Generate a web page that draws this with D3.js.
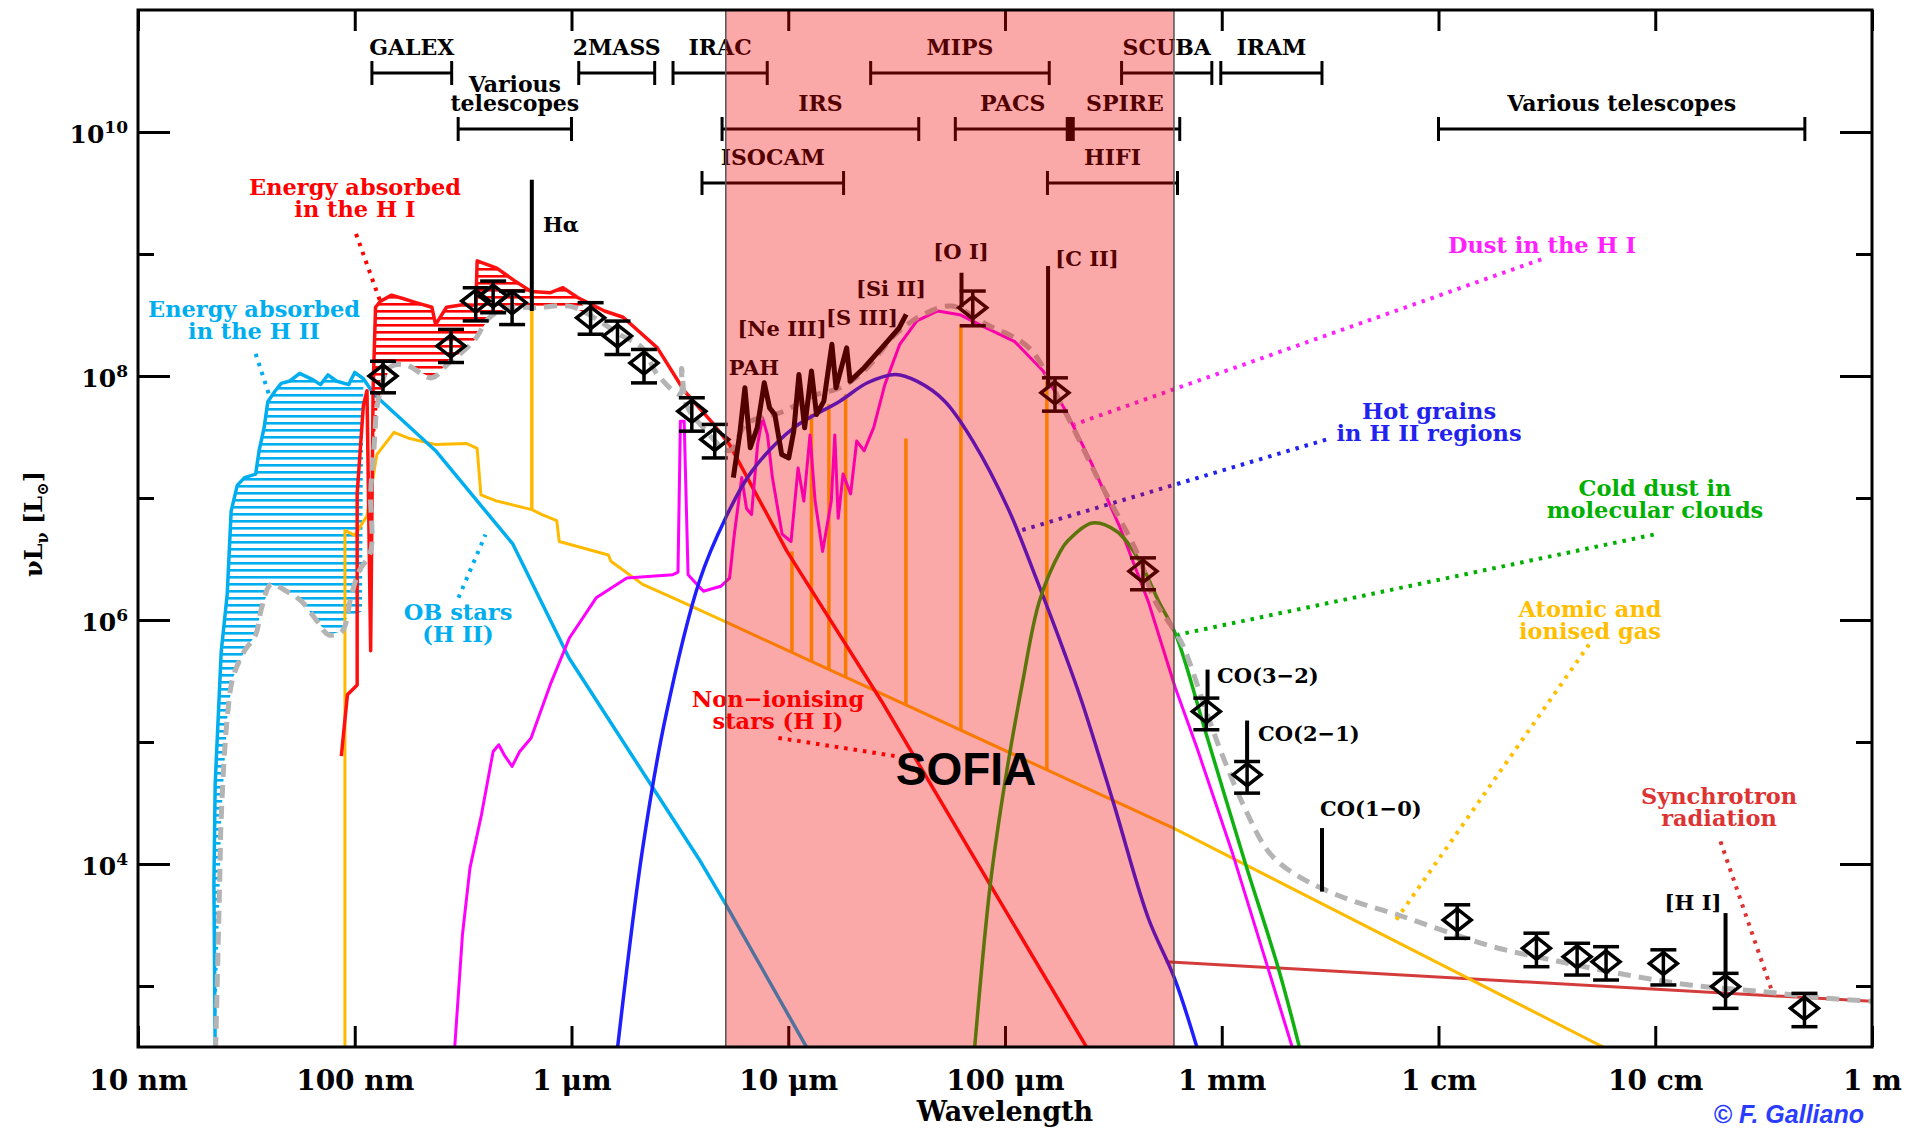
<!DOCTYPE html>
<html>
<head>
<meta charset="utf-8">
<script src="https://cdn.jsdelivr.net/npm/d3@7"></script>
<style>
  body { margin: 0; background: #fff; }
  svg { display: block; }
  text { font-family: "DejaVu Serif", serif; font-weight: bold; }
</style>
</head>
<body>
<svg id="sed" width="1921" height="1131"></svg>
<script>
//axis ticks
var waveTicks = [0.01, 0.1, 1, 10, 100, 1000, 1e4, 1e5, 1e6];
var waveLabels = ["10 nm", "100 nm", "1 μm", "10 μm", "100 μm", "1 mm", "1 cm", "10 cm", "1 m"];
var lumMajor = [1e4, 1e6, 1e8, 1e10];
var lumMinor = [1e3, 1e5, 1e7, 1e9];

//SOFIA band (microns)
var sofiaBand = [5.15, 602];

//instrument coverage (microns)
var instNames = ["GALEX", "2MASS", "IRAC", "MIPS", "SCUBA", "IRAM", "Various\ntelescopes", "IRS", "PACS", "SPIRE", "Various telescopes", "ISOCAM", "HIFI"];
var instLo = [0.12, 1.08, 2.94, 24, 345, 990, 0.3, 4.95, 59, 200, 1e4, 4.0, 157];
var instHi = [0.28, 2.42, 8.0, 160, 900, 2900, 1.0, 40, 200, 640, 4.9e5, 18, 625];
var instRow = [0, 0, 0, 0, 0, 0, 1, 1, 1, 1, 1, 2, 2];

//model components [wavelength in micron, nuLnu in Lsun]
var obStars = [[0.0227,303],[0.0224,6750],[0.0227,4.5e4],[0.0242,5.48e5],[0.0258,1.63e6],[0.0269,7.8e6],[0.0287,1.27e7],[0.031,1.47e7],[0.0349,1.57e7],[0.0362,2.44e7],[0.0382,3.79e7],[0.0397,6.15e7],[0.043,7.57e7],[0.0458,8.7e7],[0.0502,9.1e7],[0.0557,1.05e8],[0.0643,9.3e7],[0.0695,8.5e7],[0.0752,1.02e8],[0.0822,9.1e7],[0.0937,8.5e7],[0.1,1.07e8],[0.1096,9.5e7],[0.123,7.06e7],[0.236,2.44e7],[0.536,4.2e6],[0.974,4.88e5],[3.87,1.1e4],[5.15,4660],[12.3,303],[16,135]];
var obAbsorbEdge = [[0.108,1.18e6],[0.0889,1.0e6]];

var redStars = [[0.0867,7.66e4],[0.0925,2.44e5],[0.1026,2.93e5],[0.1026,1.08e7],[0.1096,5.74e7],[0.1139,7.57e7],[0.1184,5.6e5],[0.1215,7.57e7],[0.1247,3.66e8],[0.1315,4.1e8],[0.1478,4.6e8],[0.168,4.3e8],[0.1916,4.0e8],[0.227,3.66e8],[0.236,2.64e8],[0.265,3.66e8],[0.314,3.83e8],[0.362,3.8e8],[0.367,8.8e8],[0.452,7.66e8],[0.543,6.08e8],[0.651,4.93e8],[0.801,4.82e8],[0.913,5.3e8],[1.067,4.4e8],[1.42,3.41e8],[1.73,3.03e8],[2.49,1.7e8],[3.31,7.57e7],[4.41,4.25e7],[5.36,2.74e7],[9.87,3.65e6],[26.9,2.17e5],[85.5,6750],[239,311],[279,191]];

var totalSED = [[0.0228,300],[0.0238,6750],[0.0242,2.38e4],[0.0258,1.57e5],[0.0274,3.35e5],[0.0309,5.53e5],[0.0349,7.57e5],[0.0372,1.26e6],[0.0411,1.96e6],[0.0484,1.72e6],[0.0569,1.42e6],[0.067,9.8e5],[0.0757,7.57e5],[0.0873,8.07e5],[0.0966,1.62e6],[0.1047,2.51e6],[0.1184,3.65e6],[0.1184,1.07e7],[0.123,2.74e7],[0.128,6.22e7],[0.1446,1.17e8],[0.1705,1.24e8],[0.2266,9.66e7],[0.2667,1.24e8],[0.354,1.93e8],[0.417,3.0e8],[0.511,3.63e8],[0.679,3.63e8],[0.978,3.74e8],[1.2,3.2e8],[1.66,2.2e8],[2.12,1.7e8],[2.49,1.03e8],[3.18,7.07e7],[3.22,1.15e8],[3.4,5.74e7],[4.06,3.76e7],[5.36,2.44e7],[6.42,4.06e7],[9.49,5.12e7],[13.1,6.9e7],[17.3,8.0e7],[22.4,1.1e8],[31.3,2.2e8],[42.2,3.21e8],[56.8,3.74e8],[82.5,2.64e8],[129,1.7e8],[189,5.12e7],[262,1.57e7],[410,3.44e6],[493,1.42e6],[594,8.6e5],[659,6.3e5],[849,1.78e5],[990,8.4e4],[1277,2.87e4],[1597,1.35e4],[1868,1.0e4],[2472,7230],[3126,5940],[4110,4920],[6490,3830],[1.08e4,2800],[1.89e4,2040],[3.66e4,1580],[7.45e4,1230],[1.44e5,1020],[3.08e5,901],[6.28e5,792],[9.93e5,750]];

var atomicGas = [[0.0901,250],[0.0901,5.42e6],[0.1,4.94e6],[0.1139,7.15e6],[0.1264,2.27e7],[0.1517,3.45e7],[0.1796,3.07e7],[0.236,2.74e7],[0.327,2.8e7],[0.367,2.55e7],[0.382,1.06e7],[0.452,9.44e6],[0.656,8.03e6],[0.732,7.31e6],[0.855,6.52e6],[0.878,4.4e6],[1.48,3.41e6],[1.52,3.03e6],[2.13,1.96e6],[2.94,1.52e6],[5.36,9.33e5],[602,1.96e4],[6.02e4,303],[7.5e4,241]];
var lineWaves = [10.4, 12.8, 15.4, 18.4, 34.9, 62.6, 156];
var lineBase = [5.4e5, 4.57e5, 3.94e5, 3.4e5, 2.02e5, 1.25e5, 5.94e4];
var linePeak = [3.65e6, 4.9e7, 5.87e7, 7.07e7, 3.07e7, 2.64e8, 9.1e7];
var haWave = 0.656, haBase = 8.03e6, haPeak = 3.41e8;

var hotGrains = [[1.63,308],[2.12,1.27e4],[2.71,1.57e5],[3.89,2.08e6],[5.14,6.87e6],[6.8,1.66e7],[10.6,3.76e7],[17.3,6.22e7],[23.2,8.8e7],[31.3,1.03e8],[39.2,9.07e7],[52.7,6.22e7],[71.1,2.93e7],[103,8.3e6],[139,2.21e6],[187,5.53e5],[226,2.15e5],[315,3.26e4],[458,3610],[605,1160],[771,308]];

var dustHI = [[0.289,308],[0.314,2630],[0.34,9240],[0.384,2.52e4],[0.435,8.37e4],[0.462,9.5e4],[0.489,7.85e4],[0.532,6.31e4],[0.577,8.37e4],[0.651,1.08e5],[0.798,2.95e5],[0.978,7.12e5],[1.3,1.52e6],[1.8,2.21e6],[2.93,2.35e6],[3.1,2.47e6],[3.18,4.25e7],[3.31,4.25e7],[3.45,2.35e6],[4.06,1.72e6],[4.88,1.89e6],[5.36,2.2e6],[5.64,5.05e6],[6.1,1.47e7],[6.42,8.2e6],[6.77,7.31e6],[7.22,2.74e7],[7.6,4.55e7],[8.02,3.29e7],[8.45,1.47e7],[9.37,5.05e6],[10.3,4.4e6],[11.1,1.76e7],[11.8,9.44e6],[12.6,3.29e7],[13.3,9.44e6],[14.4,3.65e6],[15.8,9.44e6],[16.4,3.29e7],[17.0,6.82e6],[17.9,1.57e7],[19.4,1.08e7],[20.7,2.93e7],[22.4,2.44e7],[24.8,3.79e7],[27.9,8.5e7],[32.7,1.82e8],[39.2,2.83e8],[48.9,3.41e8],[61.8,3.18e8],[82.3,2.47e8],[111,1.91e8],[150,1.1e8],[194,4.88e7],[252,1.89e7],[340,5.68e6],[458,1.42e6],[610,2.8e5],[771,8.8e4],[1125,1.2e4],[1565,1800],[2122,308]];

var coldDust = [[72.4,308],[85.5,6750],[99.5,4.46e4],[120,2.95e5],[144,1.42e6],[180,3.65e6],[194,4.42e6],[253,6.25e6],[327,5.34e6],[410,3.23e6],[512,1.42e6],[614,7.57e5],[849,1.15e5],[1277,1.05e4],[1824,1400],[2290,308]];

var synchrotron = [[552,1580],[9.93e5,750]];

var pahSpec = [[5.58,1.47e7],[5.97,3.32e7],[6.31,8.0e7],[6.68,2.58e7],[7.19,3.76e7],[7.75,8.8e7],[8.2,5.48e7],[8.67,4.84e7],[9.33,2.27e7],[10.05,2.13e7],[10.6,3.53e7],[11.2,1.03e8],[11.9,3.76e7],[12.8,1.1e8],[13.5,4.84e7],[14.6,6.22e7],[15.9,1.82e8],[16.6,8.0e7],[18.6,1.7e8],[19.3,9.07e7],[22.4,1.17e8],[27.0,1.7e8],[32.5,2.48e8],[35.0,3.2e8]];

//line markers (Halpha, [OI], [CII], CO(3-2), CO(2-1), CO(1-0), [HI])
var markerWave = [0.656, 63, 158, 860, 1309, 2900, 2.11e5];
var markerTop = [4.06e9, 7.02e8, 7.97e8, 3.92e5, 1.5e5, 1.97e4, 3960];
var markerBottom = [3.41e8, 3.66e8, 7.94e7, 2.2e5, 6.98e4, 5940, 1160];

//photometry
var dataWave = [0.135,0.278,0.3615,0.435,0.532,1.225,1.63,2.16,3.59,4.58,71,170,433,849,1309,1.22e4,2.83e4,4.36e4,5.93e4,1.09e5,2.11e5,4.88e5];
var dataLum = [1.0e8,1.76e8,4.11e8,4.52e8,3.99e8,3.0e8,2.13e8,1.28e8,5.15e7,3.02e7,3.63e8,7.28e7,2.51e6,1.78e5,5.39e4,3480,2040,1740,1580,1530,989,656];
var dataHi = [1.32e8,2.41e8,5.29e8,6.0e8,4.97e8,3.99e8,2.82e8,1.65e8,6.63e7,4.01e7,4.97e8,9.66e7,3.23e6,2.29e5,6.92e4,4630,2710,2240,2100,1980,1270,870];
var dataLo = [7.28e7,1.29e8,2.83e8,3.3e8,2.64e8,2.2e8,1.5e8,8.78e7,3.53e7,2.13e7,2.58e8,5.15e7,1.77e6,1.26e5,3.81e4,2460,1440,1230,1120,1020,656,464];

//label pointers
var ptrHIabs = [[0.1014,1.46e9],[0.131,4.1e8]];
var ptrHIIabs = [[0.0349,1.52e8],[0.0402,7.06e7]];
var ptrOB = [[0.301,1.52e6],[0.401,5.01e6]];
var ptrNonIon = [[9.01,1.08e5],[31.4,7.66e4]];
var ptrDust = [[2.98e4,9.03e8],[209,4.01e7]];
var ptrHot = [[3030,3.01e7],[115,5.34e6]];
var ptrCold = [[9.84e4,5.01e6],[626,7.57e5]];
var ptrGas = [[4.95e4,6.3e5],[6180,3220]];
var ptrSync = [[2.0e5,1.53e4],[3.42e5,957]];

//---------------- drawing ----------------
var box = {left: 138, right: 1872, top: 10, bottom: 1047};

var x = d3.scaleLog().domain([0.01, 1e6]).range([box.left, box.right]);
var y = d3.scaleLog().domain([Math.pow(10, 2.5), 1e11]).range([box.bottom, box.top]);

var svg = d3.select("#sed");
var defs = svg.append("defs");

defs.append("clipPath").attr("id", "plotclip").append("rect")
	.attr("x", box.left).attr("y", box.top)
	.attr("width", box.right - box.left).attr("height", box.bottom - box.top);

function hatch(id, color) {
	var p = defs.append("pattern").attr("id", id)
		.attr("patternUnits", "userSpaceOnUse")
		.attr("width", 20).attr("height", 7);
	p.append("rect").attr("x", 0).attr("y", 2).attr("width", 20).attr("height", 2.6).attr("fill", color);
}
hatch("hatchBlue", "#00aeef");
hatch("hatchRed", "#ff0000");

var line = d3.line().x(function(d) { return x(d[0]); }).y(function(d) { return y(d[1]); });
var smooth = d3.line().x(function(d) { return x(d[0]); }).y(function(d) { return y(d[1]); })
	.curve(d3.curveCatmullRom.alpha(0.5));

var plot = svg.append("g").attr("clip-path", "url(#plotclip)");

function curve(data, color, width, gen) {
	return plot.append("path")
		.attr("d", (gen || line)(data))
		.attr("fill", "none")
		.attr("stroke", color)
		.attr("stroke-width", width)
		.attr("stroke-linejoin", "round");
}

//absorbed energy (hatched)
var obHatch = obStars.slice(0, 23).concat(obAbsorbEdge, totalSED.slice(0, 14).reverse());
plot.append("path").attr("d", line(obHatch) + "Z").attr("fill", "url(#hatchBlue)");
var redHatch = redStars.slice(8, 25).concat(totalSED.slice(16, 30).reverse());
plot.append("path").attr("d", line(redHatch) + "Z").attr("fill", "url(#hatchRed)");

//components
curve(synchrotron, "#d43c3c", 3);
curve(atomicGas, "#ffba00", 3);
lineWaves.forEach(function(w, i) {
	plot.append("line")
		.attr("x1", x(w)).attr("x2", x(w))
		.attr("y1", y(lineBase[i])).attr("y2", y(linePeak[i]))
		.attr("stroke", "#ffba00").attr("stroke-width", 3.5);
});
plot.append("line")
	.attr("x1", x(haWave)).attr("x2", x(haWave))
	.attr("y1", y(haBase)).attr("y2", y(haPeak))
	.attr("stroke", "#ffba00").attr("stroke-width", 3.5);

curve(obStars, "#00aeef", 3.5);
curve(redStars, "#ff1010", 3.5);
curve(dustHI, "#ff00ff", 3);
curve(hotGrains, "#1e1eff", 3.5, smooth);
curve(coldDust, "#10b010", 3.5, smooth);

//total
curve(totalSED, "#b4b4b4", 5, smooth).attr("stroke-dasharray", "13 8");

//observed mid-IR spectrum
curve(pahSpec, "#000", 5);

//line markers
markerWave.forEach(function(w, i) {
	plot.append("line")
		.attr("x1", x(w)).attr("x2", x(w))
		.attr("y1", y(markerTop[i])).attr("y2", y(markerBottom[i]))
		.attr("stroke", "#000").attr("stroke-width", 4);
});

//photometry
var pts = plot.append("g").attr("stroke", "#000").attr("stroke-width", 3.5).attr("fill", "none");
dataWave.forEach(function(w, i) {
	var cx = x(w), cy = y(dataLum[i]), yh = y(dataHi[i]), yl = y(dataLo[i]);
	pts.append("line").attr("x1", cx).attr("x2", cx).attr("y1", yh).attr("y2", yl);
	pts.append("line").attr("x1", cx - 13).attr("x2", cx + 13).attr("y1", yh).attr("y2", yh);
	pts.append("line").attr("x1", cx - 13).attr("x2", cx + 13).attr("y1", yl).attr("y2", yl);
	pts.append("path").attr("d", "M" + cx + "," + (cy - 11) + "L" + (cx + 14) + "," + cy +
		"L" + cx + "," + (cy + 11) + "L" + (cx - 14) + "," + cy + "Z");
});

//dotted pointers
var pointers = [ptrHIabs, ptrHIIabs, ptrOB, ptrNonIon, ptrDust, ptrHot, ptrCold, ptrGas, ptrSync];
var pointerColors = ["#ff0000", "#00aeef", "#00aeef", "#ff0000", "#ff22ff", "#2222ee", "#00b000", "#ffbe00", "#dd3333"];
pointers.forEach(function(p, i) {
	curve(p, pointerColors[i], 4).attr("stroke-dasharray", "3.5 6");
});

//axes
function styleTicks(g) {
	g.select(".domain").remove();
	g.selectAll(".tick line").attr("stroke", "#000").attr("stroke-width", 3);
}

var gB = svg.append("g").attr("transform", "translate(0," + box.bottom + ")")
	.call(d3.axisBottom(x).tickValues(waveTicks)
		.tickFormat(function(d, i) { return waveLabels[i]; })
		.tickSize(-21).tickPadding(23).tickSizeOuter(0));
styleTicks(gB);
gB.selectAll(".tick text").attr("font-size", 28).attr("fill", "#000");

var gT = svg.append("g").attr("transform", "translate(0," + box.top + ")")
	.call(d3.axisTop(x).tickValues(waveTicks).tickFormat("").tickSize(-21).tickSizeOuter(0));
styleTicks(gT);

var gL = svg.append("g").attr("transform", "translate(" + box.left + ",0)")
	.call(d3.axisLeft(y).tickValues(lumMajor).tickFormat("").tickSize(-32).tickPadding(10).tickSizeOuter(0));
styleTicks(gL);
gL.selectAll(".tick text").each(function(d) {
	var t = d3.select(this).attr("font-size", 25).attr("fill", "#000").attr("dy", "0.42em");
	t.append("tspan").text("10");
	t.append("tspan").attr("dy", -10).attr("font-size", 17).text(Math.round(Math.log10(d)));
});
var gL2 = svg.append("g").attr("transform", "translate(" + box.left + ",0)")
	.call(d3.axisLeft(y).tickValues(lumMinor).tickFormat("").tickSize(-16).tickSizeOuter(0));
styleTicks(gL2);

var gR = svg.append("g").attr("transform", "translate(" + box.right + ",0)")
	.call(d3.axisRight(y).tickValues(lumMajor).tickFormat("").tickSize(-32).tickSizeOuter(0));
styleTicks(gR);
var gR2 = svg.append("g").attr("transform", "translate(" + box.right + ",0)")
	.call(d3.axisRight(y).tickValues(lumMinor).tickFormat("").tickSize(-16).tickSizeOuter(0));
styleTicks(gR2);

//instrument coverage bars
var rowY = [73, 129, 183];
var inst = svg.append("g").attr("stroke", "#000").attr("stroke-width", 3);
instNames.forEach(function(name, i) {
	var x0 = x(instLo[i]), x1 = x(instHi[i]), yy = rowY[instRow[i]];
	inst.append("line").attr("x1", x0).attr("x2", x1).attr("y1", yy).attr("y2", yy);
	inst.append("line").attr("x1", x0).attr("x2", x0).attr("y1", yy - 12).attr("y2", yy + 12);
	inst.append("line").attr("x1", x1).attr("x2", x1).attr("y1", yy - 12).attr("y2", yy + 12);
	//shared edge between neighbouring instruments
	instNames.forEach(function(n2, j) {
		if (j !== i && instRow[j] === instRow[i] && instLo[j] === instHi[i]) {
			inst.append("line").attr("x1", x1).attr("x2", x1).attr("y1", yy - 12).attr("y2", yy + 12)
				.attr("stroke-width", 9);
		}
	});
	var parts = name.split("\n");
	var txt = svg.append("text").attr("text-anchor", "middle").attr("font-size", 22).attr("fill", "#000");
	parts.forEach(function(p, k) {
		txt.append("tspan").attr("x", (x0 + x1) / 2)
			.attr("y", yy - 18 - (parts.length - 1 - k) * 19).text(p);
	});
});

//annotations
var notes = [
	{lines: ["Energy absorbed", "in the H I"], x: 355, y: 195, color: "#ff0000"},
	{lines: ["Energy absorbed", "in the H II"], x: 254, y: 317, color: "#00aeef"},
	{lines: ["OB stars", "(H II)"], x: 458, y: 620, color: "#00aeef"},
	{lines: ["Non−ionising", "stars (H I)"], x: 778, y: 707, color: "#ff0000"},
	{lines: ["Dust in the H I"], x: 1542, y: 253, color: "#ff22ff"},
	{lines: ["Hot grains", "in H II regions"], x: 1429, y: 419, color: "#2222ee"},
	{lines: ["Cold dust in", "molecular clouds"], x: 1655, y: 496, color: "#00b000"},
	{lines: ["Atomic and", "ionised gas"], x: 1590, y: 617, color: "#ffbe00"},
	{lines: ["Synchrotron", "radiation"], x: 1719, y: 804, color: "#dd3333"}
];
notes.forEach(function(n) {
	var t = svg.append("text").attr("text-anchor", "middle").attr("font-size", 22.5).attr("fill", n.color);
	n.lines.forEach(function(s, k) {
		t.append("tspan").attr("x", n.x).attr("y", n.y + k * 22).text(s);
	});
});

var lineNotes = [
	{t: "Hα", x: 543, y: 232, a: "start"},
	{t: "PAH", x: 754, y: 375, a: "middle"},
	{t: "[Ne III]", x: 782, y: 336, a: "middle"},
	{t: "[S III]", x: 862, y: 325, a: "middle"},
	{t: "[Si II]", x: 891, y: 296, a: "middle"},
	{t: "[O I]", x: 961, y: 259, a: "middle"},
	{t: "[C II]", x: 1087, y: 266, a: "middle"},
	{t: "CO(3−2)", x: 1217, y: 683, a: "start"},
	{t: "CO(2−1)", x: 1258, y: 741, a: "start"},
	{t: "CO(1−0)", x: 1320, y: 816, a: "start"},
	{t: "[H I]", x: 1693, y: 910, a: "middle"}
];
lineNotes.forEach(function(n) {
	svg.append("text").attr("x", n.x).attr("y", n.y).attr("text-anchor", n.a)
		.attr("font-size", 21).attr("fill", "#000").text(n.t);
});

//SOFIA band overlay
var sx0 = x(sofiaBand[0]), sx1 = x(sofiaBand[1]);
svg.append("rect")
	.attr("x", sx0).attr("y", box.top)
	.attr("width", sx1 - sx0).attr("height", box.bottom - box.top)
	.attr("fill", "rgba(240,0,0,0.34)");
[sx0, sx1].forEach(function(sx) {
	svg.append("line").attr("x1", sx).attr("x2", sx).attr("y1", box.top).attr("y2", box.bottom)
		.attr("stroke", "#555").attr("stroke-width", 1.5);
});
svg.append("text").attr("x", 966).attr("y", 785).attr("text-anchor", "middle")
	.style("font-family", "'Liberation Sans', Arial, sans-serif").style("font-weight", "bold")
	.attr("font-size", 46).attr("fill", "#000").text("SOFIA");

//frame
svg.append("rect")
	.attr("x", box.left).attr("y", box.top)
	.attr("width", box.right - box.left).attr("height", box.bottom - box.top)
	.attr("fill", "none").attr("stroke", "#000").attr("stroke-width", 3);

//axis titles
svg.append("text").attr("x", (box.left + box.right) / 2).attr("y", 1121)
	.attr("text-anchor", "middle").attr("font-size", 27).attr("fill", "#000").text("Wavelength");

var yt = svg.append("text").attr("transform", "translate(42,524) rotate(-90)")
	.attr("text-anchor", "middle").attr("font-size", 24).attr("fill", "#000");
yt.append("tspan").text("νL");
yt.append("tspan").attr("dy", 6).attr("font-size", 16).text("ν");
yt.append("tspan").attr("dy", -6).text(" [L");
yt.append("tspan").attr("dy", 6).attr("font-size", 16).text("⊙");
yt.append("tspan").attr("dy", -6).text("]");

svg.append("text").attr("x", 1864).attr("y", 1123).attr("text-anchor", "end")
	.style("font-family", "'Liberation Sans', Arial, sans-serif").style("font-style", "italic")
	.attr("font-size", 25).attr("fill", "#2a3cff").text("© F. Galliano");
</script>
</body>
</html>
